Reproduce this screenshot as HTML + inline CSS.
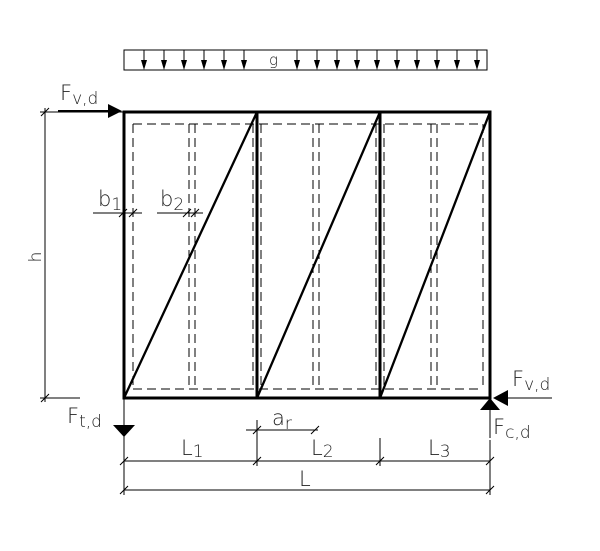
<!DOCTYPE html>
<html><head><meta charset="utf-8"><style>body{margin:0;background:#fff}</style></head><body>
<svg width="600" height="546" viewBox="0 0 600 546" xmlns="http://www.w3.org/2000/svg" font-family="DejaVu Sans, sans-serif" font-weight="200" fill="none" stroke="#000">
<rect x="124" y="50" width="363" height="20" stroke-width="1"/>
<g stroke-width="1">
<path d="M144 50V66M164 50V66M184 50V66M204 50V66M224 50V66M244 50V66M297 50V66M317 50V66M337 50V66M357 50V66M377 50V66M397 50V66M417 50V66M437 50V66M457 50V66M477 50V66"/>
</g>
<g fill="#000" stroke="none">
<path d="M141 60h6l-3 10zM161 60h6l-3 10zM181 60h6l-3 10zM201 60h6l-3 10zM221 60h6l-3 10zM241 60h6l-3 10zM294 60h6l-3 10zM314 60h6l-3 10zM334 60h6l-3 10zM354 60h6l-3 10zM374 60h6l-3 10zM394 60h6l-3 10zM414 60h6l-3 10zM434 60h6l-3 10zM454 60h6l-3 10zM474 60h6l-3 10z"/>
</g>
<text x="269" y="65" font-size="15" fill="#222" stroke="none">g</text>
<g stroke-width="1" stroke-dasharray="9,5">
<path d="M133 124H483M133 389H483"/>
<path d="M133 124V389M189 124V389M195 124V389M253 124V389M261 124V389M313 124V389M319 124V389M376 124V389M384 124V389M431 124V389M437 124V389M483 124V389"/>
</g>
<g stroke-width="3">
<rect x="124" y="112" width="366" height="286"/>
<path d="M257 112V398M380 112V398"/>
<path d="M124 398L257 112M257 398L380 112M380 398L490 112" stroke-width="2.3"/>
</g>
<path d="M58 111H110" stroke-width="2"/>
<path d="M108 104L122 111L108 118z" fill="#000" stroke="none"/>
<text x="60" y="100" font-size="21" fill="#222" stroke="none">F<tspan font-size="17" dy="4">v,d</tspan></text>
<g stroke-width="1">
<path d="M45 108V402M40 112H124M40 398H80M41 116L49 108M41 402L49 394"/>
</g>
<text transform="translate(41 257) rotate(-90)" font-size="17" fill="#222" stroke="none" text-anchor="middle">h</text>
<g stroke-width="1">
<path d="M93 213H142M119 217L127 209M129 217L137 209M157 213H203M183 217L191 209M191 217L199 209"/>
</g>
<text x="98" y="206" font-size="21" fill="#222" stroke="none">b<tspan font-size="17" dy="4">1</tspan></text>
<text x="160" y="206" font-size="21" fill="#222" stroke="none">b<tspan font-size="17" dy="4">2</tspan></text>
<path d="M505 398H552" stroke-width="1"/>
<path d="M493 398L508 390L508 406z" fill="#000" stroke="none"/>
<text x="512" y="386" font-size="21" fill="#222" stroke="none">F<tspan font-size="17" dy="4">v,d</tspan></text>
<path d="M490 410V438" stroke-width="1"/>
<path d="M490 398L500 410H480z" fill="#000" stroke="none"/>
<text x="493" y="434" font-size="21" fill="#222" stroke="none">F<tspan font-size="17" dy="4">c,d</tspan></text>
<path d="M124 398V495" stroke-width="1"/>
<path d="M113 425H135L124 437z" fill="#000" stroke="none"/>
<text x="67" y="423" font-size="21" fill="#222" stroke="none">F<tspan font-size="17" dy="4">t,d</tspan></text>
<g stroke-width="1">
<path d="M246 430H318M253 434L261 426M311 434L319 426M257 420V466M380 438V466M490 440V495"/>
</g>
<text x="272" y="425" font-size="21" fill="#222" stroke="none">a<tspan font-size="17" dy="4">r</tspan></text>
<g stroke-width="1">
<path d="M124 461H490M120 465L128 457M253 465L261 457M376 465L384 457M486 465L494 457"/>
<path d="M124 490H490M120 494L128 486M486 494L494 486"/>
</g>
<text x="181" y="455" font-size="21" fill="#222" stroke="none">L<tspan font-size="17" dy="2">1</tspan></text>
<text x="311" y="455" font-size="21" fill="#222" stroke="none">L<tspan font-size="17" dy="2">2</tspan></text>
<text x="428" y="455" font-size="21" fill="#222" stroke="none">L<tspan font-size="17" dy="2">3</tspan></text>
<text x="299" y="486" font-size="21" fill="#222" stroke="none">L</text>
</svg>
</body></html>
